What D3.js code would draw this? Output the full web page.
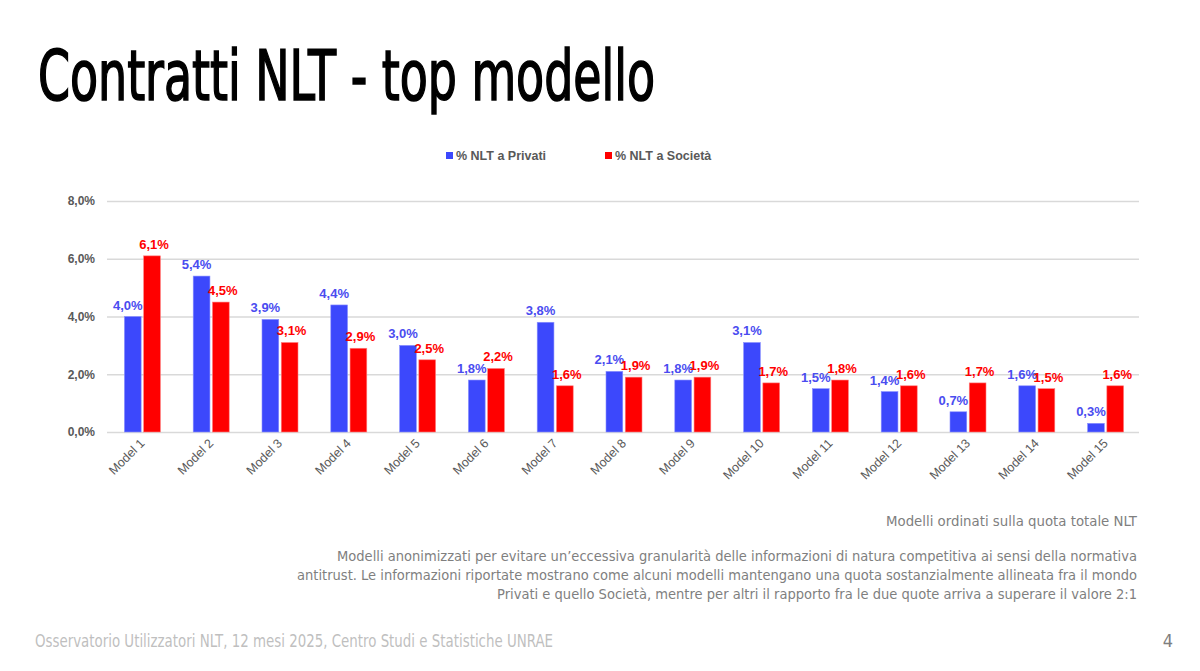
<!DOCTYPE html>
<html><head><meta charset="utf-8">
<script src="https://cdn.jsdelivr.net/npm/d3@7"></script>
<style>html,body{margin:0;padding:0;background:#fff;}svg{display:block;}</style>
</head><body>
<svg id="c" width="1200" height="671"></svg>
<script>
const categories = ["Model 1","Model 2","Model 3","Model 4","Model 5","Model 6","Model 7","Model 8","Model 9","Model 10","Model 11","Model 12","Model 13","Model 14","Model 15"];
const privati = [4.0,5.4,3.9,4.4,3.0,1.8,3.8,2.1,1.8,3.1,1.5,1.4,0.7,1.6,0.3];
const societa = [6.1,4.5,3.1,2.9,2.5,2.2,1.6,1.9,1.9,1.7,1.8,1.6,1.7,1.5,1.6];
const seriesNames = ["% NLT a Privati","% NLT a Società"];
const yTicks = [0,2,4,6,8];

(function(){
const colors = ["#3c48fc","#ff0000"];
const labelColors = ["#4a4cf0","#ff0000"];
const svg = d3.select("#c");
const fmt = v => v.toFixed(1).replace(".", ",") + "%";

// Title
svg.append("text").attr("x",38).attr("y",100)
  .attr("font-family","'Liberation Sans Narrow','DejaVu Sans Condensed','Liberation Sans',sans-serif")
  .attr("font-size",70).attr("fill","#000").attr("stroke","#000").attr("stroke-width",1.6)
  .attr("textLength",617).attr("lengthAdjust","spacingAndGlyphs")
  .text("Contratti NLT - top modello");

const pl=107, pr=1139, pt=201, pb=432;
const x = d3.scaleBand().domain(categories).range([pl,pr]).paddingInner(0).paddingOuter(0);
const y = d3.scaleLinear().domain([0,8]).range([pb,pt]);
const xs = d3.scaleBand().domain([0,1]).range([x.bandwidth()/2-17, x.bandwidth()/2+19]).paddingInner(0.13);
const labelShift = [-5, 2];

// Gridlines
const yAxis = d3.axisLeft(y).tickValues(yTicks).tickFormat(v => v.toFixed(1).replace(".", ",")+"%").tickSize(-(pr-pl)).tickPadding(12);
const gy = svg.append("g").attr("transform",`translate(${pl},0)`).call(yAxis);
gy.select(".domain").remove();
gy.selectAll(".tick line").attr("stroke","#d9d9d9").attr("stroke-width",1.5);
gy.selectAll(".tick text").attr("font-family","'Liberation Sans',Arial,sans-serif").attr("font-size",12).attr("font-weight","bold").attr("fill","#595959");

// X axis labels
const xAxis = d3.axisBottom(x).tickSize(0).tickPadding(0);
const gx = svg.append("g").attr("transform",`translate(0,${pb})`).call(xAxis);
gx.select(".domain").remove();
gx.selectAll(".tick text")
  .attr("font-family","'Liberation Sans',Arial,sans-serif").attr("font-size",12.5).attr("fill","#595959")
  .attr("text-anchor","end").attr("dy",0)
  .attr("transform","translate(4,12) rotate(-45)");

// Bars
const series = [privati, societa];
series.forEach((vals, si) => {
  const g = svg.append("g");
  g.selectAll("rect").data(vals).join("rect")
    .attr("x",(d,i)=>x(categories[i])+xs(si))
    .attr("width",xs.bandwidth())
    .attr("y",d=>y(d)).attr("height",d=>y(0)-y(d))
    .attr("fill",colors[si]).attr("stroke", si===0?"#8a90ff":"#ff8080").attr("stroke-width",0.6);
  g.selectAll("text").data(vals).join("text")
    .attr("x",(d,i)=>x(categories[i])+xs(si)+xs.bandwidth()/2+labelShift[si])
    .attr("y",d=>y(d)-7)
    .attr("text-anchor","middle")
    .attr("font-family","'Liberation Sans',Arial,sans-serif").attr("font-size",13).attr("font-weight","bold")
    .attr("fill",labelColors[si]).text(d=>fmt(d));
});

// Legend
const legX = [446, 605];
seriesNames.forEach((n,i)=>{
  svg.append("rect").attr("x",legX[i]).attr("y",152).attr("width",7).attr("height",7).attr("fill",colors[i]);
  svg.append("text").attr("x",legX[i]+10).attr("y",160)
    .attr("font-family","'Liberation Sans',Arial,sans-serif").attr("font-size",12.5).attr("font-weight","bold").attr("fill","#595959")
    .text(n);
});

// Notes
const noteFont = "'Liberation Sans Narrow','DejaVu Sans Condensed','Liberation Sans',sans-serif";
svg.append("text").attr("x",1137).attr("y",526).attr("text-anchor","end")
  .attr("font-family",noteFont).attr("font-size",14).attr("fill","#7f7f7f")
  .attr("textLength",251).attr("lengthAdjust","spacingAndGlyphs")
  .text("Modelli ordinati sulla quota totale NLT");
const para = [
  ["Modelli anonimizzati per evitare un’eccessiva granularità delle informazioni di natura competitiva ai sensi della normativa", 800, 561],
  ["antitrust. Le informazioni riportate mostrano come alcuni modelli mantengano una quota sostanzialmente allineata fra il mondo", 840, 580],
  ["Privati e quello Società, mentre per altri il rapporto fra le due quote arriva a superare il valore 2:1", 640, 599]
];
para.forEach(p=>{
  svg.append("text").attr("x",1137).attr("y",p[2]).attr("text-anchor","end")
    .attr("font-family",noteFont).attr("font-size",14).attr("fill","#7f7f7f")
    .attr("textLength",p[1]).attr("lengthAdjust","spacingAndGlyphs").text(p[0]);
});

// Footer
svg.append("text").attr("x",35).attr("y",647)
  .attr("font-family",noteFont).attr("font-size",18).attr("fill","#bfbfbf")
  .attr("textLength",518).attr("lengthAdjust","spacingAndGlyphs")
  .text("Osservatorio Utilizzatori NLT, 12 mesi 2025, Centro Studi e Statistiche UNRAE");
svg.append("text").attr("x",1173).attr("y",647).attr("text-anchor","end")
  .attr("font-family",noteFont).attr("font-size",18).attr("fill","#7f7f7f").text("4");
})();
</script>
</body></html>
